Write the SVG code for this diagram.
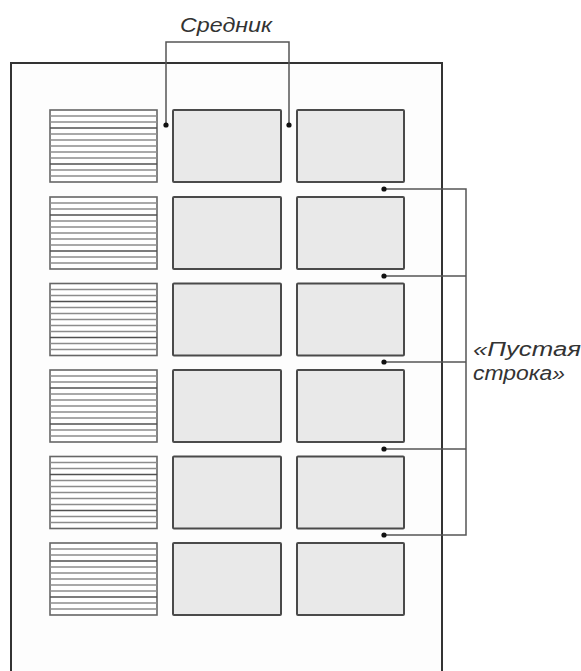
<svg xmlns="http://www.w3.org/2000/svg" width="581" height="671" viewBox="0 0 581 671">
<style>
.page{fill:#fdfdfd;stroke:#333;stroke-width:2}
.cell{fill:#e9e9e9;stroke:#4a4a4a;stroke-width:2}
.lined{fill:#fff;stroke:#666;stroke-width:1.6}
.ln{stroke:#8c8c8c;stroke-width:1.4}
.ln.d{stroke:#505050}
.conn{fill:none;stroke:#555;stroke-width:1.5}
.dot{fill:#111}
.lbl{font-family:"Liberation Sans",Arial,sans-serif;font-style:italic;font-size:20px;fill:#333}
</style>
<defs>
<g id="lines">
<rect class="lined" x="0" y="0" width="107" height="72"/>
<line class="ln" x1="0" y1="6" x2="107" y2="6"/>
<line class="ln" x1="0" y1="12" x2="107" y2="12"/>
<line class="ln d" x1="0" y1="18" x2="107" y2="18"/>
<line class="ln" x1="0" y1="24" x2="107" y2="24"/>
<line class="ln" x1="0" y1="30" x2="107" y2="30"/>
<line class="ln" x1="0" y1="36" x2="107" y2="36"/>
<line class="ln" x1="0" y1="42" x2="107" y2="42"/>
<line class="ln" x1="0" y1="48" x2="107" y2="48"/>
<line class="ln d" x1="0" y1="54" x2="107" y2="54"/>
<line class="ln" x1="0" y1="60" x2="107" y2="60"/>
<line class="ln" x1="0" y1="66" x2="107" y2="66"/>
</g>
</defs>
<rect x="0" y="0" width="581" height="671" fill="#fff"/>
<path id="page" class="page" d="M11,672 V63 H442 V672"/>

<g id="row1">
<use href="#lines" x="50" y="110"/>
<rect class="cell" x="173" y="110" width="108" height="72" rx="1"/>
<rect class="cell" x="297" y="110" width="107" height="72" rx="1"/>
</g>
<g id="row2">
<use href="#lines" x="50" y="197"/>
<rect class="cell" x="173" y="197" width="108" height="72" rx="1"/>
<rect class="cell" x="297" y="197" width="107" height="72" rx="1"/>
</g>
<g id="row3">
<use href="#lines" x="50" y="283.5"/>
<rect class="cell" x="173" y="283.5" width="108" height="72" rx="1"/>
<rect class="cell" x="297" y="283.5" width="107" height="72" rx="1"/>
</g>
<g id="row4">
<use href="#lines" x="50" y="370"/>
<rect class="cell" x="173" y="370" width="108" height="72" rx="1"/>
<rect class="cell" x="297" y="370" width="107" height="72" rx="1"/>
</g>
<g id="row5">
<use href="#lines" x="50" y="456.5"/>
<rect class="cell" x="173" y="456.5" width="108" height="72" rx="1"/>
<rect class="cell" x="297" y="456.5" width="107" height="72" rx="1"/>
</g>
<g id="row6">
<use href="#lines" x="50" y="543"/>
<rect class="cell" x="173" y="543" width="108" height="72" rx="1"/>
<rect class="cell" x="297" y="543" width="107" height="72" rx="1"/>
</g>

<g id="connectors">
<path class="conn" d="M166,125 V42 H289 V125"/>
<circle class="dot" cx="166" cy="125" r="2.6"/>
<circle class="dot" cx="289" cy="125" r="2.6"/>
<path class="conn" d="M384,189 H466 V535 H384 M384,276 H466 M384,362 H466 M384,449 H466"/>
<circle class="dot" cx="384" cy="189" r="2.6"/>
<circle class="dot" cx="384" cy="276" r="2.6"/>
<circle class="dot" cx="384" cy="362" r="2.6"/>
<circle class="dot" cx="384" cy="449" r="2.6"/>
<circle class="dot" cx="384" cy="535" r="2.6"/>
</g>

<g id="label-srednik">
<text class="lbl" x="180" y="32" textLength="92" lengthAdjust="spacingAndGlyphs">Средник</text>
</g>
<g id="label-empty-row">
<text class="lbl" x="473" y="356" textLength="108" lengthAdjust="spacingAndGlyphs">«Пустая</text>
<text class="lbl" x="473" y="380" textLength="92" lengthAdjust="spacingAndGlyphs">строка»</text>
</g>
</svg>
